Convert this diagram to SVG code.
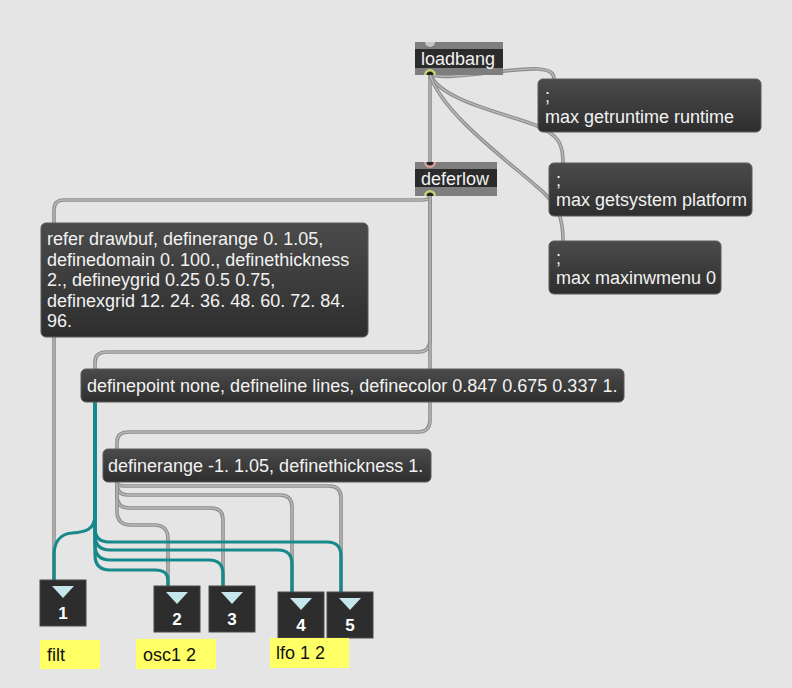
<svg xmlns="http://www.w3.org/2000/svg" xmlns:xlink="http://www.w3.org/1999/xlink" width="792" height="688" viewBox="0 0 792 688">
<defs>
<linearGradient id="msgGrad" x1="0" y1="0" x2="0" y2="1">
<stop offset="0" stop-color="#4b4b4b"/>
<stop offset="1" stop-color="#2e2e2e"/>
</linearGradient>
<style>
text{font-family:"Liberation Sans",Arial,sans-serif;font-size:18px}
.msg rect{fill:url(#msgGrad);stroke:#5a5a5a;stroke-width:1}
.msg text,.obj text{fill:#f2f2f2}
.objband{fill:#7e7e7e}
.objbody{fill:#2b2b2b}
.cordo{fill:none;stroke:#8c8c8c;stroke-width:3.6}
.cordi{fill:none;stroke:#b9b9b9;stroke-width:1.4}
.teal{fill:none;stroke:#17898a;stroke-width:3.2}
.outbox rect{fill:#2d2d2d;stroke:#4a4a4a;stroke-width:1}
.outbox polygon{fill:#c5e7eb}
.outbox text{fill:#ffffff;font-weight:bold;font-size:17px;text-anchor:middle}
.cmt rect{fill:#ffff66}
.cmt text{fill:#111}
.inG{fill:#c6c6c6}
.inP{fill:#d9a3a3}
.outY{fill:#cdd27a}
.port{fill:#222}
</style>
<path id="g1" d="M430,75 L430,162"/>
<path id="g2" d="M430,74 C440,82 515,67 538,69 C550,70 554,73 554,79"/>
<path id="g3" d="M430,74 C440,100 500,112 535,125 C560,135 563,145 563,163"/>
<path id="g4" d="M430,74 C440,110 500,155 535,185 C560,205 563,220 563,241"/>
<path id="g5" d="M430,195 Q430,200 422,200 L64,200 Q54,200 54,210 L54,223"/>
<path id="g6" d="M54,337 L54,580"/>
<path id="g7" d="M430,195 L430,340 Q430,352 418,352 L107,352 Q95,352 95,362 L95,369"/>
<path id="g8" d="M430,195 L430,420 Q430,432 418,432 L129,432 Q117,432 117,442 L117,449"/>
<path id="g9" d="M117,482 Q117,486 125,486 L329,486 Q341,486 341,498 L341,592"/>
<path id="g10" d="M117,482 L117,484 Q117,495 128,495 L280,495 Q292,495 292,507 L292,592"/>
<path id="g11" d="M117,482 L117,496 Q117,508 129,508 L211,508 Q223,508 223,520 L223,586"/>
<path id="g12" d="M117,482 L117,511 Q117,525 131,525 L154,525 Q168,525 168,539 L168,586"/>
</defs>
<rect x="0" y="0" width="792" height="688" fill="#e5e5e5"/>

<g id="connectors">
<use xlink:href="#g1" class="cordo"/><use xlink:href="#g1" class="cordi"/>
<use xlink:href="#g2" class="cordo"/><use xlink:href="#g2" class="cordi"/>
<use xlink:href="#g3" class="cordo"/><use xlink:href="#g3" class="cordi"/>
<use xlink:href="#g4" class="cordo"/><use xlink:href="#g4" class="cordi"/>
<use xlink:href="#g5" class="cordo"/><use xlink:href="#g5" class="cordi"/>
<use xlink:href="#g6" class="cordo"/><use xlink:href="#g6" class="cordi"/>
<use xlink:href="#g7" class="cordo"/><use xlink:href="#g7" class="cordi"/>
<use xlink:href="#g8" class="cordo"/><use xlink:href="#g8" class="cordi"/>
<use xlink:href="#g9" class="cordo"/><use xlink:href="#g9" class="cordi"/>
<use xlink:href="#g10" class="cordo"/><use xlink:href="#g10" class="cordi"/>
<use xlink:href="#g11" class="cordo"/><use xlink:href="#g11" class="cordi"/>
<use xlink:href="#g12" class="cordo"/><use xlink:href="#g12" class="cordi"/>
<path class="teal" d="M95,402 L95,515 C95,530 85,532 72,533 C58,534 54,545 54,555 L54,580"/>
<path class="teal" d="M95,402 L95,528 Q95,542 109,542 L327,542 Q341,542 341,556 L341,592"/>
<path class="teal" d="M95,402 L95,535 Q95,550 110,550 L278,550 Q292,550 292,564 L292,592"/>
<path class="teal" d="M95,402 L95,545 Q95,560 110,560 L209,560 Q223,560 223,574 L223,586"/>
<path class="teal" d="M95,402 L95,555 Q95,570 110,570 L155,570 Q168,570 168,580 L168,586"/>
</g>

<g id="loadbang" class="obj">
<rect class="objband" x="415" y="42" width="88" height="33"/>
<rect class="objbody" x="415" y="49" width="88" height="19"/>
<path class="inG" d="M425,42 A5,5 0 0 0 435,42 Z"/>
<path class="outY" d="M424,75 A6,6 0 0 1 436,75 Z"/>
<path class="port" d="M426.5,75 A3.5,3.5 0 0 1 433.5,75 Z"/>
<text x="421" y="65">loadbang</text>
</g>

<g id="deferlow" class="obj">
<rect class="objband" x="415" y="162" width="82" height="34"/>
<rect class="objbody" x="415" y="169" width="82" height="18"/>
<path class="inP" d="M424,162 A6,6 0 0 0 436,162 Z"/>
<path class="port" d="M426.5,162 A3.5,3.5 0 0 0 433.5,162 Z"/>
<path class="outY" d="M424,196 A6,6 0 0 1 436,196 Z"/>
<path class="port" d="M426.5,196 A3.5,3.5 0 0 1 433.5,196 Z"/>
<text x="421" y="185">deferlow</text>
</g>

<g id="msg-getruntime" class="msg">
<rect x="538" y="79" width="223" height="53" rx="5"/>
<text x="545" y="102">;</text>
<text x="545" y="123">max getruntime runtime</text>
</g>

<g id="msg-getsystem" class="msg">
<rect x="549" y="163" width="203" height="53" rx="5"/>
<text x="556" y="186">;</text>
<text x="556" y="206">max getsystem platform</text>
</g>

<g id="msg-maxinwmenu" class="msg">
<rect x="549" y="241" width="172" height="53" rx="5"/>
<text x="556" y="264">;</text>
<text x="556" y="284">max maxinwmenu 0</text>
</g>

<g id="msg-drawbuf" class="msg">
<rect x="41" y="223" width="327" height="114" rx="5"/>
<text x="47" y="245">refer drawbuf, definerange 0. 1.05,</text>
<text x="47" y="265.5">definedomain 0. 100., definethickness</text>
<text x="47" y="286">2., defineygrid 0.25 0.5 0.75,</text>
<text x="47" y="306.5">definexgrid 12. 24. 36. 48. 60. 72. 84.</text>
<text x="47" y="327">96.</text>
</g>

<g id="msg-definepoint" class="msg">
<rect x="81" y="369" width="543" height="33" rx="5"/>
<text x="87" y="392">definepoint none, defineline lines, definecolor 0.847 0.675 0.337 1.</text>
</g>

<g id="msg-definerange" class="msg">
<rect x="103" y="449" width="328" height="33" rx="5"/>
<text x="108" y="472">definerange -1. 1.05, definethickness 1.</text>
</g>

<g id="out1" class="outbox">
<rect x="40" y="580" width="46" height="46"/>
<polygon points="52,586 74,586 63,598"/>
<text x="63" y="619">1</text>
</g>
<g id="out2" class="outbox">
<rect x="154" y="586" width="46" height="46"/>
<polygon points="166,592 188,592 177,604"/>
<text x="177" y="625">2</text>
</g>
<g id="out3" class="outbox">
<rect x="209" y="586" width="46" height="46"/>
<polygon points="221,592 243,592 232,604"/>
<text x="232" y="625">3</text>
</g>
<g id="out4" class="outbox">
<rect x="278" y="592" width="46" height="46"/>
<polygon points="290,598 312,598 301,610"/>
<text x="301" y="631">4</text>
</g>
<g id="out5" class="outbox">
<rect x="327" y="592" width="46" height="46"/>
<polygon points="339,598 361,598 350,610"/>
<text x="350" y="631">5</text>
</g>

<g id="cmt-filt" class="cmt">
<rect x="40" y="640" width="60" height="29"/>
<text x="47" y="661">filt</text>
</g>
<g id="cmt-osc" class="cmt">
<rect x="136" y="639" width="80" height="30"/>
<text x="143" y="661">osc1 2</text>
</g>
<g id="cmt-lfo" class="cmt">
<rect x="270" y="638" width="79" height="30"/>
<text x="276" y="659">lfo 1 2</text>
</g>
</svg>
